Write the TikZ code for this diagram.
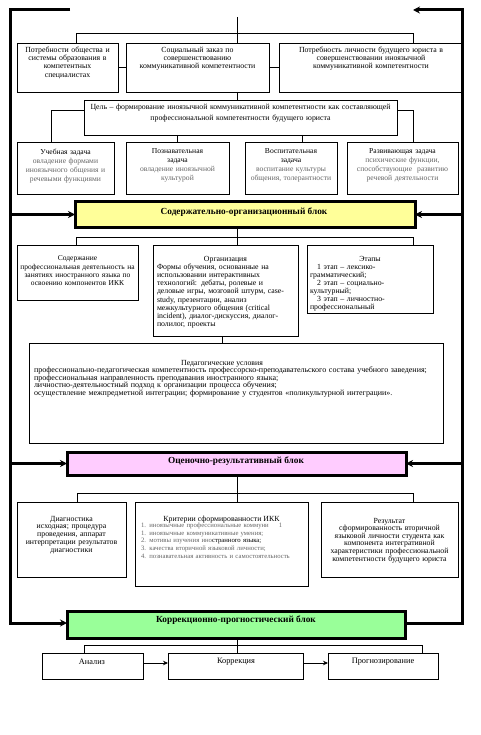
\documentclass[tikz,border=0pt]{standalone}
\usepackage{fontspec}
\setmainfont{Liberation Serif}
\usetikzlibrary{arrows.meta}
\definecolor{blkyellow}{HTML}{FFFF99}
\definecolor{blkpink}{HTML}{FFCCFF}
\definecolor{blkgreen}{HTML}{99FF99}
\definecolor{desc}{gray}{0.4}
\newcommand\rbox[6][]{\pgfmathsetmacro\bw{#5-#3}\pgfmathsetmacro\bh{#6-#4}%
  \node[thinbox,#1,anchor=north west,minimum width=\bw pt,minimum height=\bh pt] (#2) at (#3,#4) {};}
\newcommand\jl[1]{\makebox[\linewidth][s]{#1}\\}
\begin{document}
\begin{tikzpicture}[x=1pt,y=-1pt,
  conn/.style={line width=0.7pt},
  thinbox/.style={draw, line width=0.7pt, inner sep=0pt, outer sep=0pt},
  txt/.style={inner sep=0pt, outer sep=0pt, font=\fontsize{7.8}{8.2}\selectfont},
  blk/.style={draw, line width=3pt, inner sep=0pt, outer sep=0pt},
  blktxt/.style={inner sep=0pt, font=\bfseries\fontsize{9.3}{10}\selectfont},
  farrow/.style={line width=3pt, -{Stealth[length=7pt,width=7pt]}},
  sarrow/.style={line width=0.7pt, -{Stealth[length=5pt,width=4.5pt]}},
]
\useasboundingbox (0,0) rectangle (481,735);
\fill[white] (0,0) rectangle (481,735);

% ---------- top boxes
\rbox{b1}{17}{43}{118}{92}
\rbox{b2}{126}{43}{269}{92}
\rbox{b3}{279}{43}{463}{92}
\node[txt, text width=98pt, align=center, anchor=north] (b1t) at ([yshift=-4pt]b1.north)
  {Потребности общества и\\системы образования в\\компетентных\\специалистах};
\node[txt, text width=138pt, align=center, anchor=north] (b2t) at ([yshift=-4pt]b2.north)
  {Социальный заказ по\\совершенствованию\\коммуникативной компетентности};
\node[txt, text width=180pt, align=center, anchor=north] (b3t) at ([yshift=-4pt]b3.north)
  {Потребность личности будущего юриста в\\совершенствовании иноязычной\\коммуникативной компетентности};

\rbox{goal}{84}{100}{397}{135}
\node[txt, font=\fontsize{7.8}{11}\selectfont, text width=310pt, align=center, anchor=north] (goalt) at ([yshift=-4pt]goal.north)
  {Цель – формирование иноязычной коммуникативной компетентности как составляющей\\профессиональной компетентности будущего юриста};

\rbox{ta}{17}{142}{114}{194}
\rbox{tb}{126}{142}{229}{194}
\rbox{tc}{245}{142}{337}{194}
\rbox{td}{347}{142}{458}{194}
\node[txt, font=\fontsize{7.6}{9}\selectfont, text width=95pt, align=center, anchor=north] (tat) at ([yshift=-7pt]ta.north)
  {Учебная задача\\\textcolor{desc}{овладение формами\\иноязычного общения и\\речевыми функциями}};
\node[txt, font=\fontsize{7.6}{9}\selectfont, text width=100pt, align=center, anchor=north] (tbt) at ([yshift=-7pt]tb.north)
  {Познавательная\\задача\\\textcolor{desc}{овладение иноязычной\\культурой}};
\node[txt, font=\fontsize{7.6}{9}\selectfont, text width=90pt, align=center, anchor=north] (tct) at ([yshift=-7pt]tc.north)
  {Воспитательная\\задача\\\textcolor{desc}{воспитание культуры\\общения, толерантности}};
\node[txt, font=\fontsize{7.6}{9}\selectfont, text width=108pt, align=center, anchor=north] (tdt) at ([yshift=-7pt]td.north)
  {Развивающая задача\\\textcolor{desc}{психические функции,\\способствующие\ \ развитию\\речевой деятельности}};

% ---------- yellow block
\node[blk, fill=blkyellow, anchor=north west, minimum width=340pt, minimum height=25pt] (yel) at (75,202) {};
\node[blktxt] (yelt) at (244,212) {Содержательно-организационный блок};

\rbox{sod}{17}{245}{138}{300}
\rbox{org}{153}{245}{298}{336}
\rbox{eta}{307}{245}{433}{313}
\node[txt, font=\fontsize{7.5}{8.2}\selectfont, text width=119pt, align=center, anchor=north] (sodt) at ([yshift=-11pt]sod.north)
  {Содержание\\профессиональная деятельность на\\занятиях иностранного языка по\\освоению компонентов ИКК};
\node[txt, text width=137pt, align=left, anchor=north] (orgt) at ([yshift=-11pt]org.north)
  {\makebox[\linewidth][c]{Организация}\\
   \jl{Формы обучения, основанные на}
   \jl{использовании интерактивных}
   \jl{технологий: дебаты, ролевые и}
   \jl{деловые игры, мозговой штурм, case-}
   \jl{study, презентации, анализ}
   \jl{межкультурного общения (critical}
   \jl{incident), диалог-дискуссия, диалог-}
   полилог, проекты};
\node[txt, font=\fontsize{7.8}{8}\selectfont, text width=120pt, align=left, anchor=north] (etat) at ([yshift=-11pt]eta.north)
  {\makebox[\linewidth][c]{Этапы}\\
   \hspace*{7pt}1 этап – лексико-\\грамматический;\\
   \hspace*{7pt}2 этап – социально-\\культурный;\\
   \hspace*{7pt}3 этап – личностно-\\профессиональный};

\rbox{cond}{29}{343}{443}{443}
\node[txt, anchor=north] (condh) at (222,360) {Педагогические условия};
\node[txt, font=\fontsize{8}{7.6}\selectfont, text width=406pt, align=left, anchor=north west] (condt) at (34,367)
  {профессионально-педагогическая компетентность профессорско-преподавательского состава учебного заведения;\\
   профессиональная направленность преподавания иностранного языка;\\
   личностно-деятельностный подход к организации процесса обучения;\\
   осуществление межпредметной интеграции; формирование у студентов «поликультурной интеграции».};

% ---------- pink block
\node[blk, fill=blkpink, anchor=north west, minimum width=339pt, minimum height=23pt] (pnk) at (67,452) {};
\node[blktxt] (pnkt) at (236,461) {Оценочно-результативный блок};

\rbox{diag}{17}{502}{126}{577}
\rbox{krit}{135}{502}{308}{586}
\rbox{rez}{321}{502}{458}{577}
\node[txt, font=\fontsize{7.8}{7.8}\selectfont, text width=106pt, align=center, anchor=north] (diagt) at ([yshift=-14pt]diag.north)
  {Диагностика\\исходная; процедура\\проведения, аппарат\\интерпретации результатов\\диагностики};
\node[txt, anchor=north] (kritt) at ([yshift=-14pt]krit.north) {Критерии сформированности ИКК};
\node[txt, font=\fontsize{6.7}{7.6}\selectfont, text=desc, text width=165pt, align=left, anchor=north west] (kritl) at (141,523)
  {1. иноязычные профессиональные коммуни\hspace{10pt}1\\
   1. иноязычные коммуникативные умения;\\
   2. мотивы изучения ино\textcolor{black}{странного языка;}\\
   3. качества вторичной языковой личности;\\
   4. познавательная активность и самостоятельность};
\node[txt, font=\fontsize{7.8}{7.6}\selectfont, text width=134pt, align=center, anchor=north] (rezt) at ([yshift=-16pt]rez.north)
  {Результат\\сформированность вторичной\\языковой личности студента как\\компонента интегративной\\характеристики профессиональной\\компетентности будущего юриста};

% ---------- green block
\node[blk, fill=blkgreen, anchor=north west, minimum width=338pt, minimum height=27pt] (grn) at (67,611) {};
\node[blktxt] (grnt) at (236,620) {Коррекционно-прогностический блок};

\rbox{an}{42}{653}{143}{679}
\rbox{kor}{168}{653}{303}{679}
\rbox{prog}{328}{653}{438}{679}
\node[txt, font=\fontsize{8.3}{9}\selectfont] (ant) at (92,662) {Анализ};
\node[txt, font=\fontsize{8.3}{9}\selectfont] (kort) at (236,662) {Коррекция};
\node[txt, font=\fontsize{8.3}{9}\selectfont] (progt) at (383,662) {Прогнозирование};

% ---------- thin connectors
\coordinate (topc) at (237,17);
\coordinate (bl) at (76,33);
\coordinate (br) at (413,33);
\draw[conn] (topc) -- (topc |- b2.north);
\draw[conn] (bl |- b1.north) -- (bl) -- (br) -- (br |- b3.north);
\draw[conn] (b1.east) -- (b2.west);
\draw[conn] (b2.east) -- (b3.west);
\draw[conn] (topc |- b2.south) -- (topc |- goal.north);
\coordinate (gl) at (51,110);
\coordinate (gr) at (413,110);
\coordinate (gc) at (302,135);
\draw[conn] (goal.west |- gl) -- (gl) -- (gl |- ta.north);
\draw[conn] (goal.east |- gr) -- (gr) -- (gr |- td.north);
\draw[conn] (tb.north |- goal.south) -- (tb.north);
\draw[conn] (gc |- goal.south) -- (gc |- tc.north);

\coordinate (yl) at (76,237);
\coordinate (yr) at (413,237);
\draw[conn] (topc |- yel.south) -- (topc |- org.north);
\draw[conn] (yl |- sod.north) -- (yl) -- (yr) -- (yr |- eta.north);
\coordinate (oc) at (222,340);
\draw[conn] (oc |- org.south) -- (oc |- cond.north);

\coordinate (pl) at (77,493);
\coordinate (pr) at (413,493);
\draw[conn] (topc |- pnk.south) -- (topc |- krit.north);
\draw[conn] (pl |- diag.north) -- (pl) -- (pr) -- (pr |- rez.north);

\coordinate (gl2) at (84,645);
\coordinate (gr2) at (422,645);
\draw[conn] (topc |- grn.south) -- (topc |- kor.north);
\draw[conn] (gl2 |- an.north) -- (gl2) -- (gr2) -- (gr2 |- prog.north);
\coordinate (ay) at (0,663);
\draw[sarrow] (an.east |- ay) -- (kor.west |- ay);
\draw[sarrow] (kor.east |- ay) -- (prog.west |- ay);

% ---------- thick frame
\coordinate (tl) at (70,10);
\coordinate (L0) at (10,10);
\coordinate (R0) at (462,10);
\coordinate (tr) at (413,10);
\coordinate (fy) at (0,623);
\draw[farrow] (tl) -- (L0) -- (L0 |- fy) -- (grn.west |- fy);
\draw[farrow] (grn.east |- fy) -- (R0 |- fy) -- (R0) -- (tr);
\draw[farrow] (L0 |- yel.west) -- (yel.west);
\draw[farrow] (R0 |- yel.east) -- (yel.east);
\draw[farrow] (L0 |- pnk.west) -- (pnk.west);
\draw[farrow] (R0 |- pnk.east) -- (pnk.east);
\end{tikzpicture}
\end{document}
